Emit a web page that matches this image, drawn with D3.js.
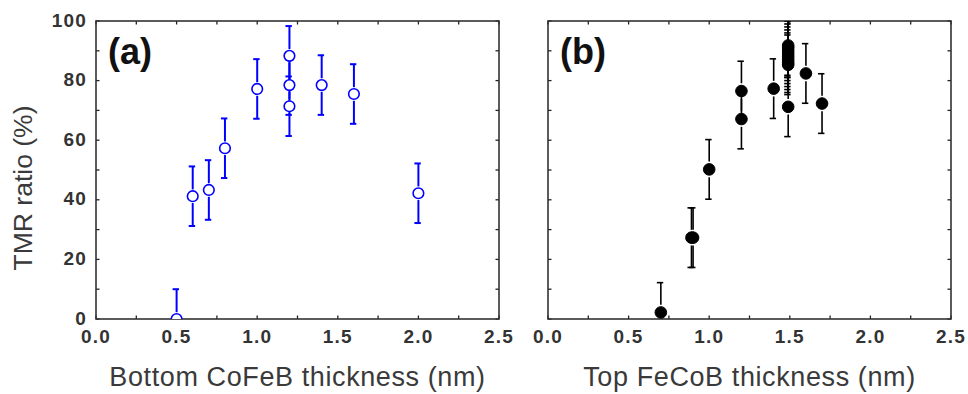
<!DOCTYPE html>
<html><head><meta charset="utf-8">
<script src="https://cdn.jsdelivr.net/npm/d3@7"></script>
<style>body{margin:0;background:#fff}svg{display:block}text{font-family:Arial,"Liberation Sans",sans-serif}</style>
</head><body>
<svg id="c" width="968" height="394"></svg>
<script>
// Panel (a): bottom CoFeB thickness
const aThickness = [0.5, 0.6, 0.7, 0.8, 1.0, 1.2, 1.2, 1.2, 1.4, 1.6, 2.0];
const aTMR       = [0, 41.2, 43.3, 57.3, 77.2, 88.3, 78.5, 71.4, 78.5, 75.5, 42.2];
const aErr       = [10, 10, 10, 10, 10, 10, 10, 10, 10, 10, 10];
// Panel (b): top FeCoB thickness
const bThickness = [0.7, 0.89, 0.9, 1.0, 1.2, 1.2, 1.4, 1.49, 1.49, 1.49, 1.49, 1.49, 1.49, 1.49, 1.49, 1.49, 1.6, 1.7];
const bTMR       = [2.2, 27.3, 27.3, 50.2, 76.5, 67.1, 77.3, 91.8, 91, 90, 89, 88, 87, 86, 85.3, 71.2, 82.4, 72.3];
const bErr       = [10, 10, 10, 10, 10, 10, 10, 10, 10, 10, 10, 10, 10, 10, 10, 10, 10, 10];

const xTickLabels = ["0.0", "0.5", "1.0", "1.5", "2.0", "2.5"];
const yTickLabels = ["0", "20", "40", "60", "80", "100"];
const xTitles = ["Bottom CoFeB thickness (nm)", "Top FeCoB thickness (nm)"];
const yTitle = "TMR ratio (%)";
const panelLabels = ["(a)", "(b)"];

(function () {
const svg = d3.select("#c");
const yTop = 21, yBot = 319;
const panels = [
  {left: 96, right: 499, xs: aThickness, ys: aTMR, es: aErr, color: "#0000ff", filled: false, yLabels: true, label: panelLabels[0], title: xTitles[0]},
  {left: 548, right: 951, xs: bThickness, ys: bTMR, es: bErr, color: "#000", filled: true, yLabels: false, label: panelLabels[1], title: xTitles[1]}
];

const y = d3.scaleLinear().domain([0, 100]).range([yBot, yTop]);

panels.forEach((p, pi) => {
  const x = d3.scaleLinear().domain([0, 2.5]).range([p.left, p.right]);
  const g = svg.append("g");
  const clipId = "clip" + pi;
  svg.append("clipPath").attr("id", clipId).append("rect")
    .attr("x", p.left).attr("y", yTop).attr("width", p.right - p.left).attr("height", yBot - yTop);

  const tl = 3.5;
  const minorX = d3.range(0, 2.5001, 0.25);
  const minorY = d3.range(0, 100.001, 10);
  const tickG = g.append("g").attr("stroke", "#222").attr("stroke-width", 1.3);
  minorX.forEach(v => {
    tickG.append("line").attr("x1", x(v)).attr("x2", x(v)).attr("y1", yBot).attr("y2", yBot - tl);
    tickG.append("line").attr("x1", x(v)).attr("x2", x(v)).attr("y1", yTop).attr("y2", yTop + tl);
  });
  minorY.forEach(v => {
    tickG.append("line").attr("x1", p.left).attr("x2", p.left + tl).attr("y1", y(v)).attr("y2", y(v));
    tickG.append("line").attr("x1", p.right).attr("x2", p.right - tl).attr("y1", y(v)).attr("y2", y(v));
  });

  g.append("rect").attr("x", p.left).attr("y", yTop).attr("width", p.right - p.left).attr("height", yBot - yTop)
    .attr("fill", "none").attr("stroke", "#333").attr("stroke-width", 1.6);

  xTickLabels.forEach(t => {
    g.append("text").attr("x", x(+t)).attr("y", 336).attr("text-anchor", "middle")
      .attr("dominant-baseline", "central").attr("font-size", 19).attr("font-weight", "bold")
      .attr("letter-spacing", 1.2).attr("fill", "#333").text(t);
  });
  if (p.yLabels) {
    yTickLabels.forEach(t => {
      g.append("text").attr("x", 87).attr("y", y(+t) - 1).attr("text-anchor", "end")
        .attr("dominant-baseline", "central").attr("font-size", 19).attr("font-weight", "bold")
        .attr("letter-spacing", 1.2).attr("fill", "#333").text(t);
    });
  }

  g.append("text").attr("x", (p.left + p.right) / 2).attr("y", 386).attr("text-anchor", "middle")
    .attr("font-size", 27).attr("letter-spacing", 0.6).attr("fill", "#3a3a3a").text(p.title);

  g.append("text").attr("x", p.left + 12).attr("y", 64).attr("font-size", 36).attr("font-weight", "bold")
    .attr("fill", "#111").text(p.label);

  const dg = g.append("g").attr("clip-path", `url(#${clipId})`);
  const r = p.filled ? 5.8 : 5.3;
  const gap = p.filled ? 2 : 1.5;
  const cw = 3.2;
  p.xs.forEach((xv, i) => {
    const cx = x(xv), cy = y(p.ys[i]);
    const yt = y(p.ys[i] + p.es[i]), yb = y(p.ys[i] - p.es[i]);
    const eg = dg.append("g").attr("stroke", p.color).attr("stroke-width", p.filled ? 1.6 : 2);
    eg.append("line").attr("x1", cx).attr("x2", cx).attr("y1", yt).attr("y2", cy - r - gap);
    eg.append("line").attr("x1", cx).attr("x2", cx).attr("y1", cy + r + gap).attr("y2", yb);
    eg.append("line").attr("x1", cx - cw - 0.8).attr("x2", cx + cw - 0.8).attr("y1", yt).attr("y2", yt);
    eg.append("line").attr("x1", cx - cw - 0.8).attr("x2", cx + cw - 0.8).attr("y1", yb).attr("y2", yb);
  });
  p.xs.forEach((xv, i) => {
    dg.append("circle").attr("cx", x(xv)).attr("cy", y(p.ys[i])).attr("r", r)
      .attr("fill", p.filled ? "#000" : "#fff").attr("stroke", p.color)
      .attr("stroke-width", p.filled ? 1 : 1.6);
  });
});

svg.append("text").attr("transform", "translate(32,188) rotate(-90)").attr("text-anchor", "middle")
  .attr("font-size", 26.5).attr("fill", "#3a3a3a").text(yTitle);
})();
</script>
</body></html>
